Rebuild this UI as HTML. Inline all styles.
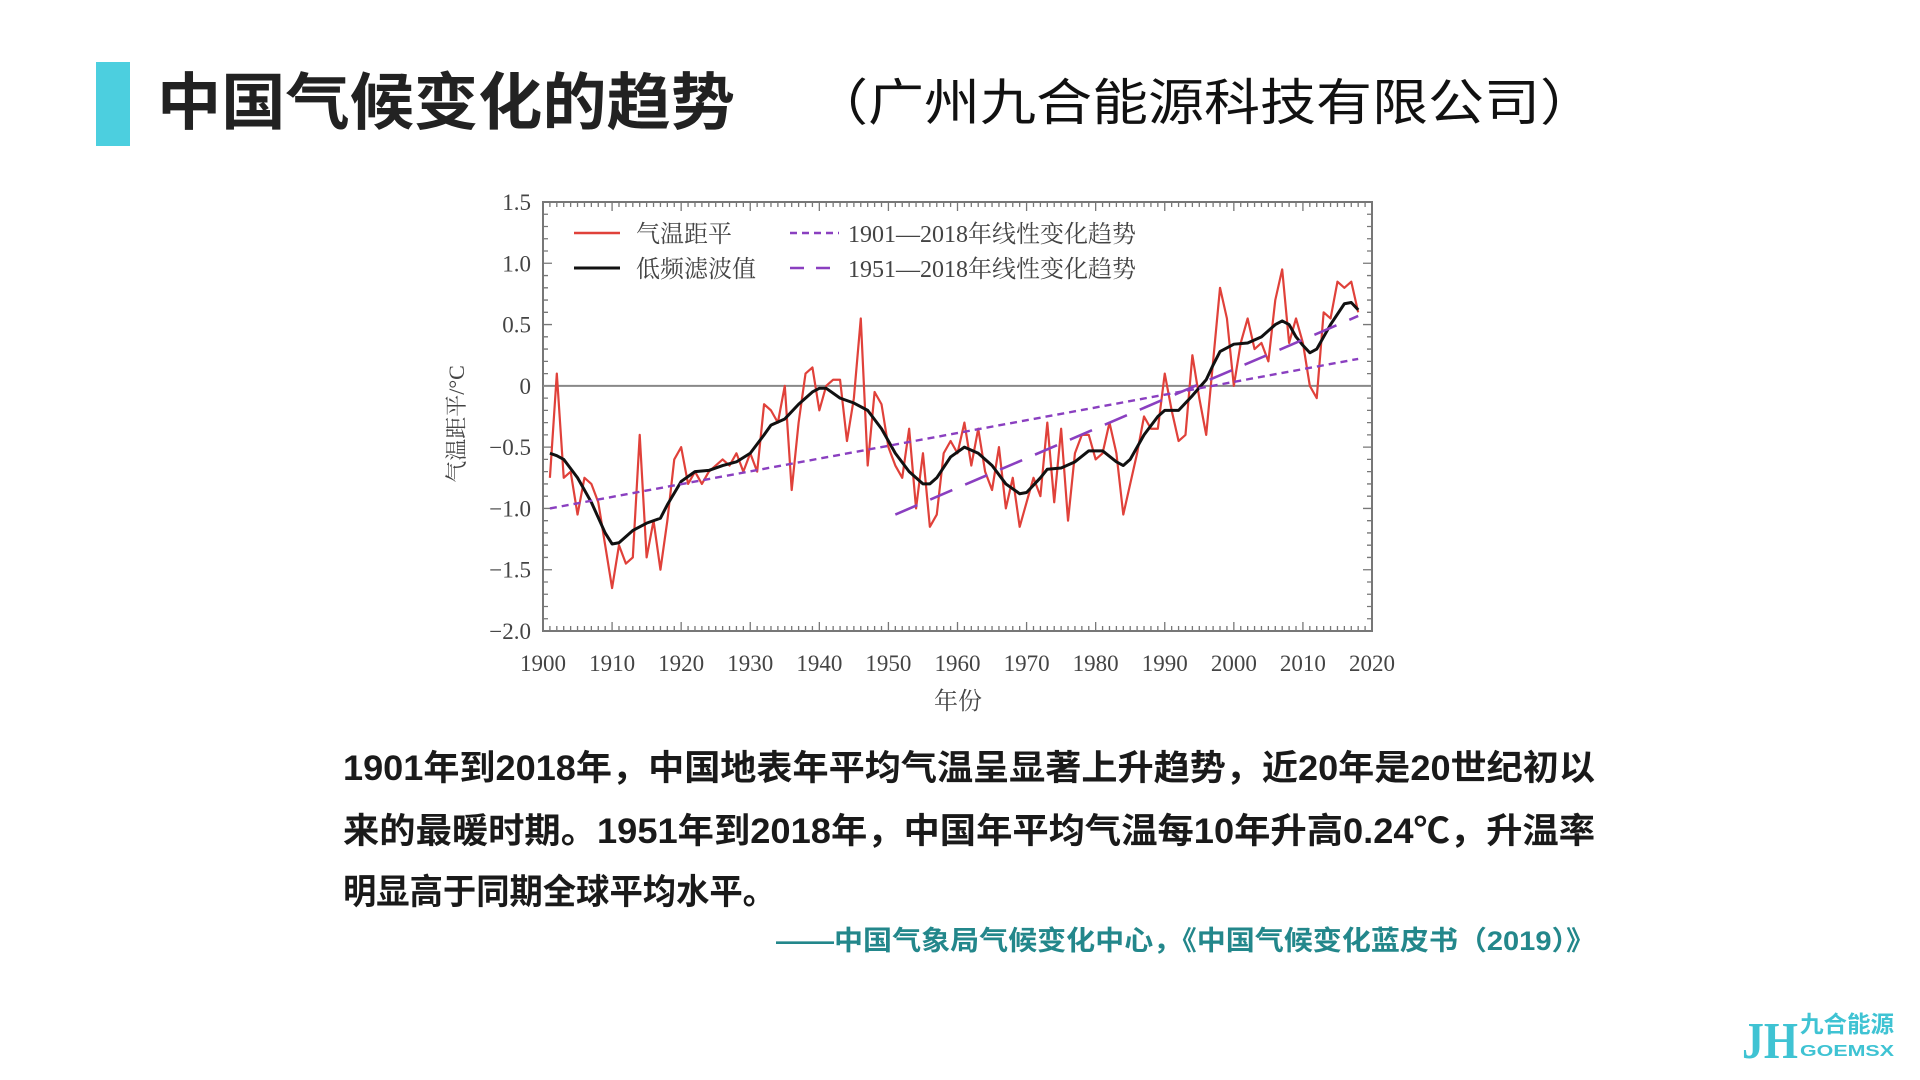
<!DOCTYPE html>
<html><head><meta charset="utf-8"><style>
html,body{margin:0;padding:0;background:#fff;}
svg{display:block;}
</style></head><body>
<svg id="s" width="1920" height="1080" viewBox="0 0 1920 1080" xmlns="http://www.w3.org/2000/svg">
<rect x="0" y="0" width="1920" height="1080" fill="#fff"/>
<rect x="96" y="62" width="34" height="84" fill="#4ccfdf"/>
<text x="157" y="124" font-family="Liberation Sans, Noto Sans CJK SC, sans-serif" font-weight="bold" font-size="62" fill="#222" textLength="578" lengthAdjust="spacingAndGlyphs">中国气候变化的趋势</text>
<text x="812" y="120" font-family="Liberation Sans, Noto Sans CJK SC, sans-serif" font-size="50" fill="#111" textLength="784" lengthAdjust="spacingAndGlyphs">（广州九合能源科技有限公司）</text>
<g id="plot"></g>
<g font-family="Liberation Sans, Noto Sans CJK SC, sans-serif" font-weight="bold" font-size="35" fill="#1a1a1a">
<text x="343" y="780" textLength="1252" lengthAdjust="spacingAndGlyphs">1901年到2018年，中国地表年平均气温呈显著上升趋势，近20年是20世纪初以</text>
<text x="343" y="843" textLength="1252" lengthAdjust="spacingAndGlyphs">来的最暖时期。1951年到2018年，中国年平均气温每10年升高0.24℃，升温率</text>
<text x="343" y="904" textLength="433" lengthAdjust="spacingAndGlyphs">明显高于同期全球平均水平。</text>
</g>
<text x="776" y="950" font-family="Liberation Sans, Noto Sans CJK SC, sans-serif" font-weight="bold" font-size="27" fill="#23878b" textLength="819" lengthAdjust="spacingAndGlyphs">——中国气象局气候变化中心，《中国气候变化蓝皮书（2019）》</text>
<g>
<text x="1742" y="1058" font-family="Liberation Serif, serif" font-weight="bold" font-size="52" fill="#3fc3d3" textLength="56" lengthAdjust="spacingAndGlyphs">JH</text>
<text x="1800" y="1032" font-family="Liberation Sans, Noto Sans CJK SC, sans-serif" font-weight="bold" font-size="23" fill="#3fc3d3" textLength="94" lengthAdjust="spacingAndGlyphs">九合能源</text>
<text x="1800" y="1056" font-family="Liberation Sans, sans-serif" font-weight="bold" font-size="16" fill="#3fc3d3" textLength="94" lengthAdjust="spacingAndGlyphs">GOEMSX</text>
</g>
</svg>
<script>
var NS="http://www.w3.org/2000/svg",g=document.getElementById("plot");
var L=543,R=1372,T=202,B=631;
function X(y){return L+(y-1900)*(R-L)/120;}
function Y(v){return T+(1.5-v)*(B-T)/3.5;}
function el(t,a,txt){var e=document.createElementNS(NS,t);for(var k in a)e.setAttribute(k,a[k]);if(txt!==undefined)e.textContent=txt;g.appendChild(e);return e;}
el("rect",{x:L,y:T,width:R-L,height:B-T,fill:"#fff",stroke:"#777","stroke-width":2});
var d="";
for(var yr=1900;yr<=2020;yr++){var x=X(yr),m=(yr%10==0)?9:5;d+="M"+x+" "+B+"v-"+m+"M"+x+" "+T+"v"+m;}
for(var i=-20;i<=15;i++){var y=Y(i/10),m=(i%5==0)?9:5;d+="M"+L+" "+y+"h"+m+"M"+R+" "+y+"h-"+m;}
el("path",{d:d,stroke:"#777","stroke-width":1.3,fill:"none"});
el("line",{x1:L,x2:R,y1:Y(0),y2:Y(0),stroke:"#888","stroke-width":2});
var yl=[["1.5",1.5],["1.0",1],["0.5",0.5],["0",0],["−0.5",-0.5],["−1.0",-1],["−1.5",-1.5],["−2.0",-2]];
yl.forEach(function(p){el("text",{x:531,y:Y(p[1])+8,"text-anchor":"end","font-family":"Liberation Serif, serif","font-size":23,fill:"#444"},p[0]);});
for(var yr=1900;yr<=2020;yr+=10)el("text",{x:X(yr),y:671,"text-anchor":"middle","font-family":"Liberation Serif, serif","font-size":23,fill:"#444"},""+yr);
el("text",{x:958,y:709,"text-anchor":"middle","font-family":"Liberation Serif, Noto Serif CJK SC, serif","font-size":24,fill:"#444"},"年份");
el("text",{x:0,y:0,transform:"translate(464,424) rotate(-90)","text-anchor":"middle","font-family":"Liberation Serif, Noto Serif CJK SC, serif","font-size":22,fill:"#444"},"气温距平/°C");
var red=[-0.75,0.1,-0.75,-0.7,-1.05,-0.75,-0.8,-0.95,-1.3,-1.65,-1.3,-1.45,-1.4,-0.4,-1.4,-1.1,-1.5,-1.1,-0.6,-0.5,-0.8,-0.7,-0.8,-0.7,-0.65,-0.6,-0.65,-0.55,-0.7,-0.55,-0.7,-0.15,-0.2,-0.3,0.0,-0.85,-0.3,0.1,0.15,-0.2,0.0,0.05,0.05,-0.45,-0.1,0.55,-0.65,-0.05,-0.15,-0.5,-0.65,-0.75,-0.35,-1.0,-0.55,-1.15,-1.05,-0.55,-0.45,-0.55,-0.3,-0.65,-0.35,-0.7,-0.85,-0.5,-1.0,-0.75,-1.15,-0.95,-0.75,-0.9,-0.3,-0.95,-0.35,-1.1,-0.55,-0.4,-0.4,-0.6,-0.55,-0.3,-0.55,-1.05,-0.8,-0.55,-0.25,-0.35,-0.35,0.1,-0.2,-0.45,-0.4,0.25,-0.1,-0.4,0.2,0.8,0.55,0.0,0.35,0.55,0.3,0.35,0.2,0.7,0.95,0.35,0.55,0.35,0.0,-0.1,0.6,0.55,0.85,0.8,0.85,0.6];
var pts=red.map(function(v,i){return X(1901+i)+","+Y(v);}).join(" ");
el("polyline",{points:pts,fill:"none",stroke:"#e0413a","stroke-width":2.2,"stroke-linejoin":"round"});
var bk=[[1901,-0.55],[1902,-0.57],[1903,-0.6],[1905,-0.75],[1907,-0.95],[1909,-1.2],[1910,-1.29],[1911,-1.28],[1913,-1.18],[1915,-1.12],[1917,-1.08],[1918,-0.97],[1920,-0.78],[1922,-0.7],[1924,-0.69],[1926,-0.65],[1928,-0.62],[1930,-0.55],[1932,-0.4],[1933,-0.32],[1935,-0.27],[1937,-0.15],[1939,-0.05],[1940,-0.02],[1941,-0.02],[1943,-0.1],[1945,-0.14],[1947,-0.2],[1949,-0.35],[1951,-0.55],[1953,-0.7],[1955,-0.8],[1956,-0.8],[1957,-0.75],[1959,-0.58],[1961,-0.5],[1963,-0.55],[1965,-0.65],[1967,-0.8],[1969,-0.88],[1970,-0.87],[1972,-0.75],[1973,-0.68],[1975,-0.67],[1977,-0.62],[1979,-0.53],[1981,-0.53],[1983,-0.62],[1984,-0.65],[1985,-0.6],[1987,-0.4],[1989,-0.25],[1990,-0.2],[1992,-0.2],[1994,-0.08],[1996,0.05],[1997,0.17],[1998,0.28],[2000,0.34],[2002,0.35],[2004,0.4],[2006,0.5],[2007,0.53],[2008,0.5],[2009,0.4],[2010,0.33],[2011,0.27],[2012,0.3],[2014,0.5],[2016,0.67],[2017,0.68],[2018,0.62]];
el("polyline",{points:bk.map(function(p){return X(p[0])+","+Y(p[1]);}).join(" "),fill:"none",stroke:"#111","stroke-width":3,"stroke-linejoin":"round"});
el("line",{x1:X(1901),y1:Y(-1.0),x2:X(2018),y2:Y(0.22),stroke:"#8a3fc0","stroke-width":2.4,"stroke-dasharray":"7,5"});
el("line",{x1:X(1951),y1:Y(-1.05),x2:X(2018),y2:Y(0.57),stroke:"#8a3fc0","stroke-width":2.6,"stroke-dasharray":"24,14"});
var lf={"font-family":"Liberation Serif, Noto Serif CJK SC, serif","font-size":24,fill:"#444"};
function lt(x,y,t){var a={x:x,y:y};for(var k in lf)a[k]=lf[k];el("text",a,t);}
el("line",{x1:574,x2:620,y1:233,y2:233,stroke:"#e0413a","stroke-width":2.4});
el("line",{x1:574,x2:620,y1:268,y2:268,stroke:"#111","stroke-width":3});
lt(636,242,"气温距平");lt(636,277,"低频滤波值");
el("line",{x1:790,x2:839,y1:233,y2:233,stroke:"#8a3fc0","stroke-width":2.4,"stroke-dasharray":"7,5"});
el("line",{x1:790,x2:839,y1:268,y2:268,stroke:"#8a3fc0","stroke-width":2.6,"stroke-dasharray":"14,12"});
lt(848,242,"1901—2018年线性变化趋势");lt(848,277,"1951—2018年线性变化趋势");
</script>
</body></html>
